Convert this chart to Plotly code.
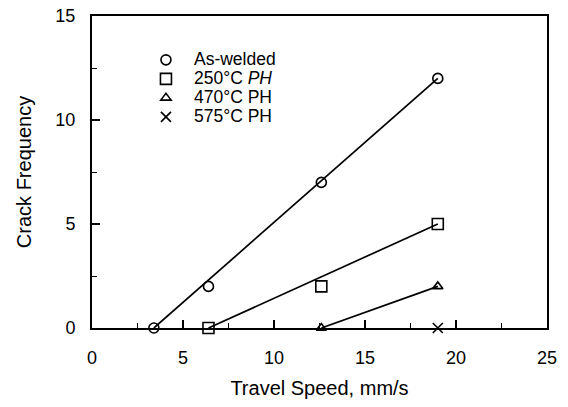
import plotly.graph_objects as go

# Data
series_names = ["As-welded", "250°C <i>PH</i>", "470°C PH", "575°C PH"]
aswelded_x = [3.4, 6.4, 12.6, 19.0]
aswelded_y = [0, 2, 7, 12]
ph250_x = [6.4, 12.6, 19.0]
ph250_y = [0, 2, 5]
ph470_x = [12.6, 19.0]
ph470_y = [0, 2]
ph575_x = [19.0]
ph575_y = [0]

x_ticks = [0, 5, 10, 15, 20, 25]
y_ticks = [0, 5, 10, 15]

symbols = ["circle-open", "square-open", "triangle-up-open", "x-thin-open"]
sizes = [10, 11, 9, 10]
all_x = [aswelded_x, ph250_x, ph470_x, ph575_x]
all_y = [aswelded_y, ph250_y, ph470_y, ph575_y]
with_line = [True, True, True, False]

fig = go.Figure()
font = "Liberation Sans, Arial, sans-serif"

for i in range(4):
    xs, ys = all_x[i], all_y[i]
    if with_line[i]:
        fig.add_trace(go.Scatter(
            x=[xs[0], xs[-1]], y=[ys[0], ys[-1]], mode="lines",
            line=dict(color="black", width=1.7), showlegend=False, hoverinfo="skip"))
    fig.add_trace(go.Scatter(
        x=xs, y=ys, mode="markers",
        name='<span style="font-size:17.5px">' + series_names[i] + '</span>',
        marker=dict(symbol=symbols[i], size=sizes[i], color="black",
                    line=dict(color="black", width=1.6)),
        cliponaxis=False))

axis_common = dict(
    showgrid=False, zeroline=False, showline=True, linecolor="black", linewidth=2,
    mirror=True, ticks="inside", ticklen=8, tickwidth=1.6, tickcolor="black",
    tickfont=dict(family=font, size=18, color="black"),
    minor=dict(ticks="inside", ticklen=5, tickwidth=1.3, tickcolor="black"),
    automargin=False, ticklabeloverflow="allow",
)

fig.update_layout(
    width=568, height=407,
    margin=dict(l=92, r=21, t=16, b=79),
    paper_bgcolor="white", plot_bgcolor="white",
    font=dict(family=font, color="black"),
    xaxis=dict(range=[0, 25], tickvals=x_ticks, dtick=5, ticklabelstandoff=12,
               title=dict(text="Travel Speed, mm/s", font=dict(family=font, size=20), standoff=14),
               minor_dtick=2.5, **axis_common),
    yaxis=dict(range=[0, 15], tickvals=y_ticks, dtick=5, ticklabelstandoff=11,
               title=dict(text="Crack Frequency", font=dict(family=font, size=20), standoff=18),
               minor_dtick=2.5, **axis_common),
    legend=dict(x=0.101, y=0.906, xanchor="left", yanchor="top",
                bgcolor="rgba(0,0,0,0)", font=dict(family=font, size=12.3, color="black"),
                itemwidth=46, tracegroupgap=0),
)

fig.write_html("out.html",
               config={"displayModeBar": False},
               post_script="document.body.style.margin='0';document.body.style.overflow='hidden';")
